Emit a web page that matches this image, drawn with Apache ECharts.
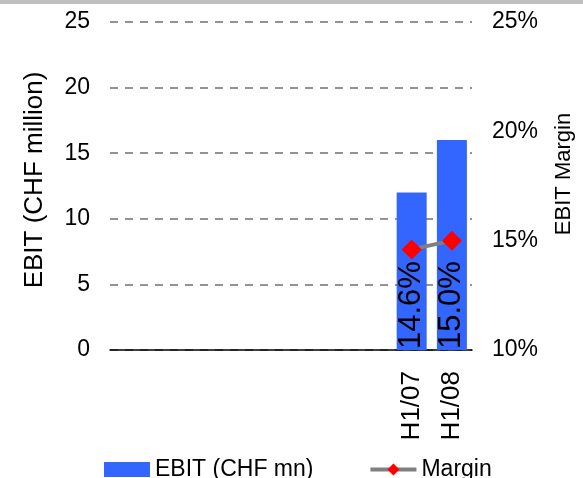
<!DOCTYPE html>
<html>
<head>
<meta charset="utf-8">
<script src="https://cdn.jsdelivr.net/npm/echarts@6/dist/echarts.min.js"></script>
<style>
html,body{margin:0;padding:0;background:#fff;}
#c{width:583px;height:478px;}
</style>
</head>
<body>
<div id="c"></div>
<script>
var categories = ['', '', '', '', '', '', '', 'H1/07', 'H1/08'];
var ebit = [null, null, null, null, null, null, null, 12, 16];
var margin = [null, null, null, null, null, null, null, 14.6, 15.0];
var leftTicks = {min: 0, max: 25, interval: 5};
var rightTicks = {min: 10, max: 25, interval: 5};

var FONT = 'Liberation Sans, Arial, sans-serif';
var chart = echarts.init(document.getElementById('c'), null, {renderer: 'canvas'});
chart.setOption({
  animation: false,
  backgroundColor: '#ffffff',
  textStyle: {fontFamily: FONT, color: '#000'},
  graphic: [{
    type: 'rect', left: 0, top: 0, shape: {width: 583, height: 4},
    style: {fill: '#c0c0c0'}
  }],
  grid: {left: 110, right: 110, top: 22, bottom: 128, containLabel: false},
  legend: {
    left: 104, top: 458, padding: 0,
    itemWidth: 46, itemHeight: 15, itemGap: 55,
    textStyle: {fontFamily: FONT, fontSize: 23, color: '#000'},
    data: [
      {name: 'EBIT (CHF mn)', icon: 'rect'},
      {name: 'Margin', lineStyle: {width: 4, color: '#808080'}}
    ]
  },
  xAxis: {
    type: 'category',
    data: categories,
    axisLine: {show: true, lineStyle: {color: '#000', width: 1.5}},
    axisTick: {show: false},
    axisLabel: {rotate: 90, interval: 0, margin: 21, fontSize: 26, color: '#000', fontFamily: FONT},
    splitLine: {show: false}
  },
  yAxis: [{
    type: 'value',
    min: leftTicks.min, max: leftTicks.max, interval: leftTicks.interval,
    name: 'EBIT (CHF million)',
    nameLocation: 'middle', nameGap: 62, nameRotate: 90,
    nameTextStyle: {fontSize: 26, color: '#000', fontFamily: FONT, padding: [0, 0, 0, 12]},
    axisLine: {show: false},
    axisTick: {show: false},
    axisLabel: {margin: 20, fontSize: 23, color: '#000', fontFamily: FONT},
    splitLine: {show: true, lineStyle: {color: '#707070', type: [8, 7], width: 1.5}}
  }, {
    type: 'value',
    min: rightTicks.min, max: rightTicks.max, interval: rightTicks.interval,
    name: 'EBIT Margin',
    nameLocation: 'middle', nameGap: 81, nameRotate: 90,
    nameTextStyle: {fontSize: 22, color: '#000', fontFamily: FONT, padding: [0, 0, 0, 24]},
    axisLine: {show: false},
    axisTick: {show: false},
    axisLabel: {margin: 20, fontSize: 23, color: '#000', fontFamily: FONT, formatter: '{value}%'},
    splitLine: {show: false}
  }],
  series: [{
    name: 'EBIT (CHF mn)',
    type: 'bar',
    data: ebit,
    barWidth: 30,
    itemStyle: {color: '#3366ff'},
    label: {
      show: true,
      position: 'insideBottom',
      rotate: 90,
      align: 'left',
      verticalAlign: 'middle',
      distance: 1,
      fontSize: 31,
      color: '#000',
      fontFamily: FONT,
      formatter: function (p) { return margin[p.dataIndex].toFixed(1) + '%'; }
    }
  }, {
    name: 'Margin',
    type: 'line',
    yAxisIndex: 1,
    data: margin,
    symbol: 'diamond',
    symbolSize: 20,
    lineStyle: {color: '#808080', width: 4},
    itemStyle: {color: '#ff0000'},
    z: 5
  }]
});
</script>
</body>
</html>
